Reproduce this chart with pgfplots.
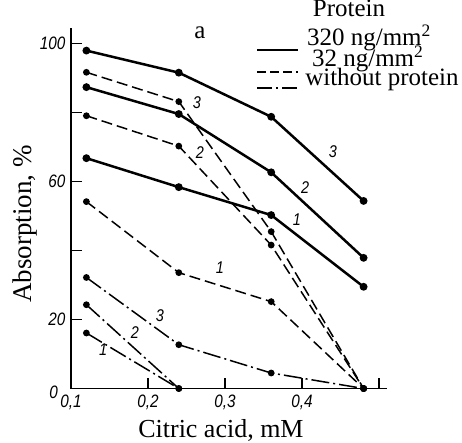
\documentclass[border=0pt]{standalone}
\usepackage{pgfplots}
\pgfplotsset{compat=1.18}
\usepackage{fontspec}
\setmainfont{Liberation Serif}
\newfontfamily\tickfont{Liberation Sans}[FakeStretch=0.85]

\tikzset{
  solidc/.style={black, line width=2.5bp, mark=*, mark size=2.6bp},
  dashc/.style={black, line width=1.5bp, dash pattern=on 11bp off 5bp, mark=*, mark size=2.6bp, mark options={solid}},
  ddc/.style={black, line width=1.5bp, dash pattern=on 18bp off 4bp on 2bp off 4bp, mark=*, mark size=2.6bp, mark options={solid}},
  num/.style={font=\tickfont\itshape\fontsize{17bp}{17bp}\selectfont, inner sep=0pt},
  leg/.style={font=\fontsize{25bp}{25bp}\selectfont, inner sep=0pt, anchor=base west},
}

\begin{document}
\begin{tikzpicture}
\begin{axis}[
  scale only axis,
  width=316bp, height=360.7bp,
  xmin=0.1, xmax=0.51, ymin=0, ymax=104.5,
  axis lines=left,
  axis line style={-, line width=1.5bp},
  clip=false,
  xtick={0.1,0.2,0.3,0.4,0.5},
  xticklabels={{0,1},{0,2},{0,3},{0,4},{}},
  ytick={0,20,40,60,80,100},
  yticklabels={,20,,60,,100},
  tick style={black, line width=1.2bp},
  major tick length=11bp,
  tick align=inside,
  tick label style={font=\tickfont\itshape\fontsize{18bp}{18bp}\selectfont},
  xticklabel style={yshift=-3bp},
  yticklabel style={xshift=-2bp},
  xlabel={Citric acid, mM},
  ylabel={Absorption, \%},
  xlabel style={at={(rel axis cs:0.475,-0.137)}, anchor=base, font=\fontsize{26bp}{26bp}\selectfont},
  ylabel style={at={(rel axis cs:-0.1456,0.4566)}, anchor=center, rotate=0, font=\fontsize{27bp}{27bp}\selectfont},
]
% 320 ng/mm^2 (solid)
\addplot[solidc] coordinates {(0.12,98.0) (0.24,91.6) (0.36,78.8) (0.48,54.4)};
\addplot[solidc] coordinates {(0.12,87.4) (0.24,79.6) (0.36,62.7) (0.48,37.9)};
\addplot[solidc] coordinates {(0.12,66.8) (0.24,58.4) (0.36,50.3) (0.48,29.5)};
% 32 ng/mm^2 (dashed)
\addplot[dashc] coordinates {(0.12,91.7) (0.24,83.2) (0.36,45.5) (0.48,0)};
\addplot[dashc] coordinates {(0.12,79.1) (0.24,70.3) (0.36,41.6) (0.48,0)};
\addplot[dashc] coordinates {(0.12,54.2) (0.24,33.6) (0.36,25.2) (0.48,0)};
% without protein (dash-dot)
\addplot[ddc] coordinates {(0.12,32.2) (0.24,12.7) (0.36,4.5) (0.48,0)};
\addplot[ddc] coordinates {(0.12,24.3) (0.24,0)};
\addplot[ddc] coordinates {(0.12,16.1) (0.24,0)};

% curve numbers
\node[num] at (axis cs:0.440,68.6) {3};
\node[num] at (axis cs:0.404,58.2) {2};
\node[num] at (axis cs:0.3935,48.9) {1};
\node[num] at (axis cs:0.2636,82.8) {3};
\node[num] at (axis cs:0.2675,68.3) {2};
\node[num] at (axis cs:0.2935,35.0) {1};
\node[num] at (axis cs:0.2156,21.0) {3};
\node[num] at (axis cs:0.183,16.1) {2};
\node[num] at (axis cs:0.1416,11.2) {1};

% origin label
\node[font=\tickfont\itshape\fontsize{18bp}{18bp}\selectfont, inner sep=0pt] at (axis cs:0.0775,-1.0) {0};

% panel letter
\node[font=\fontsize{25bp}{25bp}\selectfont, inner sep=0pt] at (axis cs:0.2675,103.1) {a};

% legend
\node[leg, anchor=base] at (axis cs:0.461,108.0) {Protein};
\node[leg] at (axis cs:0.4065,99.6) {320 ng/mm\textsuperscript{2}};
\node[leg] at (axis cs:0.413,93.25) {32 ng/mm\textsuperscript{2}};
\node[leg] at (axis cs:0.404,88.0) {without protein};
\draw[black, line width=2.5bp] (axis cs:0.3416,98.2) -- (axis cs:0.3948,98.2);
\draw[black, line width=1.5bp, dash pattern=on 9bp off 4bp] (axis cs:0.3416,91.8) -- (axis cs:0.3948,91.8);
\draw[black, line width=1.5bp, dash pattern=on 15bp off 4bp on 2bp off 4bp] (axis cs:0.3416,87.2) -- (axis cs:0.3948,87.2);

\coordinate (bbSW) at (axis cs:0.00779,-15.74);
\coordinate (bbNE) at (axis cs:0.6078,112.67);
\end{axis}
\pgfresetboundingbox
\useasboundingbox (bbSW) rectangle (bbNE);
\end{tikzpicture}
\end{document}
